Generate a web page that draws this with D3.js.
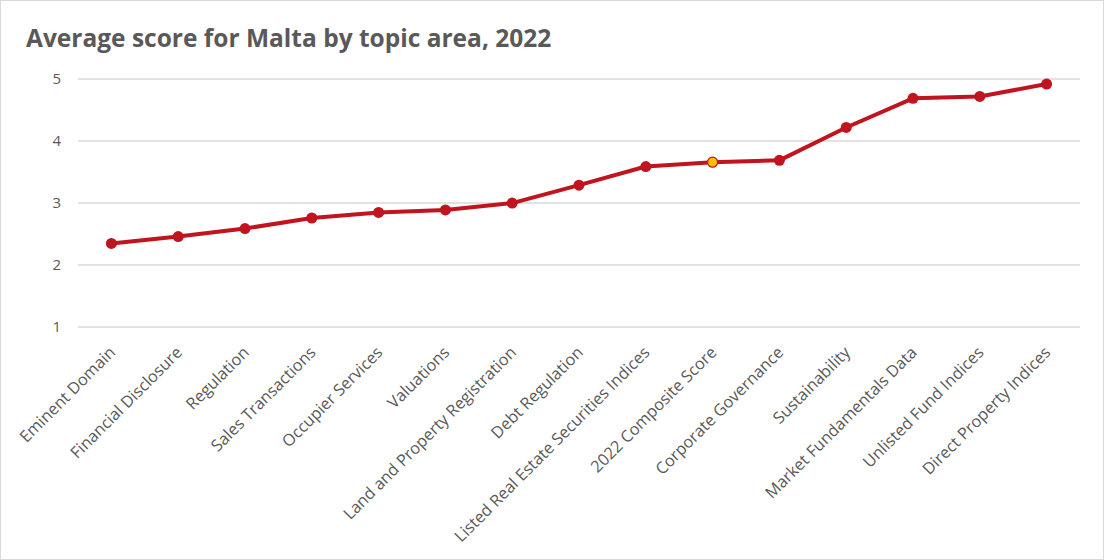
<!DOCTYPE html>
<html><head><meta charset="utf-8">
<script src="https://cdn.jsdelivr.net/npm/d3@7"></script>
<style>
html,body{margin:0;padding:0;background:#fff;}
svg{display:block;}
</style></head>
<body>
<svg id="chart" width="1104" height="560"></svg>
<script>
const categories = ["Eminent Domain","Financial Disclosure","Regulation","Sales Transactions","Occupier Services","Valuations","Land and Property Registration","Debt Regulation","Listed Real Estate Securities Indices","2022 Composite Score","Corporate Governance","Sustainability","Market Fundamentals Data","Unlisted Fund Indices","Direct Property Indices"];
const scores = [2.34,2.45,2.58,2.75,2.84,2.88,2.99,3.28,3.58,3.65,3.68,4.21,4.68,4.71,4.91];
const highlight = "2022 Composite Score";
const yTicks = [1,2,3,4,5];
const title = "Average score for Malta by topic area, 2022";

const svg = d3.select("#chart");
const W = 1104, H = 560;
svg.append("rect").attr("x",0.5).attr("y",0.5).attr("width",W-1).attr("height",H-1)
  .attr("fill","#fff").attr("stroke","#d9d9d9");

const m = {left:78, right:1080, top:78.5, bottom:326.5};
const x = d3.scaleBand().domain(categories).range([m.left,m.right]);
const y = d3.scaleLinear().domain([1,5]).range([m.bottom,m.top]);

svg.append("text").attr("x",26).attr("y",47).text(title)
  .attr("font-family","Open Sans, sans-serif").attr("font-weight","bold")
  .attr("font-size",24.5).attr("fill","#595959");

const yAxis = svg.append("g").attr("transform",`translate(${m.left},0)`)
  .call(d3.axisLeft(y).tickValues(yTicks).tickSize(-(m.right-m.left)).tickFormat(d3.format("d")));
yAxis.select(".domain").remove();
yAxis.selectAll("line").attr("stroke","#d9d9d9").attr("stroke-width",1.3);
yAxis.selectAll("text").attr("x",-17).attr("fill","#595959")
  .attr("font-family","Open Sans, sans-serif").attr("font-size",15);

const xAxis = svg.append("g").attr("transform",`translate(0,${m.bottom})`)
  .call(d3.axisBottom(x).tickSize(0));
xAxis.select(".domain").remove();
xAxis.selectAll("text")
  .attr("font-family","Open Sans, sans-serif").attr("font-size",16.3).attr("fill","#595959")
  .attr("text-anchor","end").attr("dy",0).attr("y",0)
  .attr("transform","translate(5,27) rotate(-45)");

const data = categories.map((c,i)=>({c, v:scores[i]}));
const line = d3.line().x(d=>x(d.c)+x.bandwidth()/2).y(d=>y(d.v));
svg.append("path").datum(data).attr("d",line).attr("fill","none")
  .attr("stroke","#c0141e").attr("stroke-width",4).attr("stroke-linejoin","round");
svg.selectAll("circle.pt").data(data).join("circle").attr("class","pt")
  .attr("cx",d=>x(d.c)+x.bandwidth()/2).attr("cy",d=>y(d.v))
  .attr("r",d=>d.c===highlight?5:5.5)
  .attr("fill",d=>d.c===highlight?"#ffc000":"#c0141e")
  .attr("stroke",d=>d.c===highlight?"#c0141e":"none").attr("stroke-width",1.2);
</script>
</body></html>
